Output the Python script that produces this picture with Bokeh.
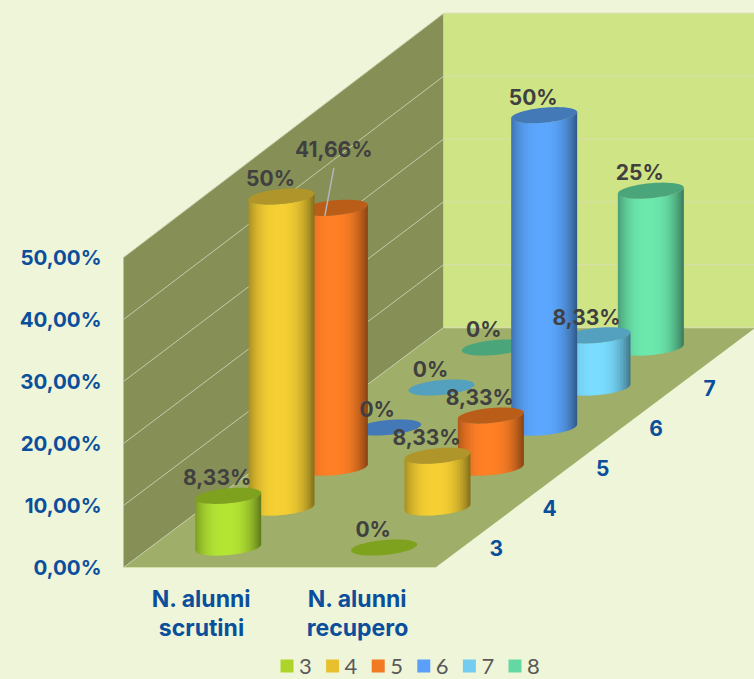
import math
from bokeh.plotting import figure
from bokeh.models import Range1d, FixedTicker
from bokeh.core.properties import value
from bokeh.embed import file_html
from bokeh.resources import INLINE

# ---------- data ----------
categories = ["N. alunni\nscrutini", "N. alunni\nrecupero"]
series_names = ["3", "4", "5", "6", "7", "8"]
depth_labels = ["3", "4", "5", "6", "7"]
scrutini = [8.33, 50, 41.66, 0, 0, 0]
recupero = [0, 8.33, 8.33, 50, 8.33, 25]
value_ticks = [0, 10, 20, 30, 40, 50]
value_tick_labels = ["0,00%", "10,00%", "20,00%", "30,00%", "40,00%", "50,00%"]

# ---------- style ----------
BG = "#eff5d8"
SIDE_WALL = "#868f55"
BACK_WALL = "#cfe585"
FLOOR = "#9fae68"
AXIS_BLUE = "#0b4f9c"
LABEL_DARK = "#404040"
LEGEND_TEXT = "#595959"
LEGEND_COLORS = ["#aed42b", "#e6c02e", "#f17a22", "#5b9ffa", "#72cdf0", "#64d8a3"]
BODY_COLORS = ["#b4e534", "#f5cf33", "#ff8026", "#5ca7ff", "#7adcff", "#6ce8ad"]
TOP_COLORS = ["#7ea21e", "#b0962a", "#b95d18", "#4479b8", "#54a0bf", "#4aa67a"]
FONT = value("Inter")

# ---------- projection (page pixels horizontally, value units vertically) ----------
PX_PER_UNIT = 6.2
X0, FRONT_Y, CAT_W = 123, 567, 156
DEPTH_DX, DEPTH_DY = 320, 240
WALL_MAX = 50
N_D = len(series_names)


def px(cat, t):
    return X0 + CAT_W * cat + DEPTH_DX * t


def py(v, t):
    return v * (1 + 0.013 * t) + t * DEPTH_DY / PX_PER_UNIT


def pu(pixels):
    return pixels / PX_PER_UNIT


p = figure(width=754, height=679, output_backend="svg", toolbar_location=None,
           x_axis_type=None, min_border_left=110, min_border_right=0,
           min_border_top=0, min_border_bottom=0,
           x_range=Range1d(110, 754),
           y_range=Range1d(pu(FRONT_Y - 679), pu(FRONT_Y)))
p.grid.visible = False
p.outline_line_color = None
p.background_fill_color = BG
p.border_fill_color = BG

ax = p.yaxis[0]
ax.ticker = FixedTicker(ticks=value_ticks)
ax.major_label_overrides = dict(zip(value_ticks, value_tick_labels))
ax.axis_line_color = None
ax.major_tick_line_color = None
ax.minor_tick_line_color = None
ax.major_tick_in = 0
ax.major_tick_out = 0
ax.major_label_standoff = 9
ax.major_label_text_font = "Inter"
ax.major_label_text_font_style = "bold"
ax.major_label_text_font_size = "20.5px"
ax.major_label_text_color = AXIS_BLUE

# ---------- walls & floor ----------
n_cat = len(categories)
p.patch([px(0, 0), px(0, 0), px(0, 1), px(0, 1)],
        [py(0, 0), py(WALL_MAX, 0), py(WALL_MAX, 1), py(0, 1)],
        fill_color=SIDE_WALL, line_color=None)
p.patch([px(0, 1), px(0, 1), px(n_cat, 1), px(n_cat, 1)],
        [py(0, 1), py(WALL_MAX, 1), py(WALL_MAX, 1), py(0, 1)],
        fill_color=BACK_WALL, line_color=None)
p.patch([px(0, 0), px(n_cat, 0), px(n_cat, 1), px(0, 1)],
        [py(0, 0), py(0, 0), py(0, 1), py(0, 1)],
        fill_color=FLOOR, line_color=None)
for v in value_ticks:
    p.line([px(0, 0), px(0, 1)], [py(v, 0), py(v, 1)], line_color="#c4cbaa", line_width=1)
    p.line([px(0, 1), px(n_cat, 1)], [py(v, 1), py(v, 1)], line_color="#d6dfa6", line_width=1.3)
p.line([px(0, 0), px(n_cat, 0)], [py(0, 0), py(0, 0)], line_color="#d6dfa6", line_width=1)


# ---------- cylinders ----------
def mix(hex_color, k):
    r, g, b = (int(hex_color[i:i + 2], 16) for i in (1, 3, 5))
    return "#%02x%02x%02x" % (round(r * k), round(g * k), round(b * k))


RX, RY, TILT, STRIPS = 33, 7.5, 3.0, 44
xs, ys, colors = [], [], []
rows = [scrutini, recupero]
labels = []
for d in range(N_D - 1, -1, -1):
    t = (d + 0.5) / N_D
    for c in range(n_cat):
        val = rows[c][d]
        cx = px(c + 0.5, t)
        y0 = py(0, t)
        y1 = py(val, t)
        if val > 0:
            for i in range(STRIPS):
                f0 = -1 + 2 * i / STRIPS
                f1 = -1 + 2 * (i + 1) / STRIPS
                fm = (f0 + f1) / 2
                shade = 0.52 + 0.48 * (1 - abs((fm + 0.08) / 1.08) ** 2.6)
                # strips overlap the next one a little so that no seams show
                fo = min(1, f1 + 0.03)
                low0 = -pu(RY) * math.sqrt(max(0, 1 - f0 * f0)) + pu(TILT) * f0
                low1 = -pu(RY) * math.sqrt(max(0, 1 - fo * fo)) + pu(TILT) * fo
                xs.append([cx + RX * f0, cx + RX * fo, cx + RX * fo, cx + RX * f0])
                ys.append([y0 + low0, y0 + low1, y1 + low1, y1 + low0])
                colors.append(mix(BODY_COLORS[d], shade))
        ex, ey = [], []
        for k in range(48):
            a = 2 * math.pi * k / 48
            ex.append(cx + RX * math.cos(a))
            ey.append(y1 + pu(RY) * math.sin(a) + pu(TILT) * math.cos(a))
        xs.append(ex)
        ys.append(ey)
        colors.append(TOP_COLORS[d])
        labels.append((cx, y1, val))
p.patches(xs=xs, ys=ys, fill_color=colors, line_color=None)

# ---------- data labels ----------
LEADER_VALUE = 41.66
lx, ly, lt = [], [], []
for cx, y1, val in labels:
    dx, dy = -11, pu(18)
    if val == LEADER_VALUE:
        dx, dy = -1, pu(58)
        p.line([cx + dx, cx - 10], [y1 + dy - pu(18), y1 + pu(-8)],
               line_color="#b4b4bc", line_width=1.5)
    lx.append(cx + dx)
    ly.append(y1 + dy)
    lt.append(f"{val:g}%".replace(".", ","))
p.text(x=lx, y=ly, text=lt, text_font=FONT, text_font_style="bold", text_font_size="21px",
       text_color=LABEL_DARK, text_align="center", text_baseline="middle")

# ---------- depth tick labels ----------
dtx = [px(n_cat, (i + 0.5) / N_D) + 34 for i in range(len(depth_labels))]
dty = [py(0, (i + 0.5) / N_D) for i in range(len(depth_labels))]
p.text(x=dtx, y=dty, text=depth_labels, text_font=FONT, text_font_style="bold",
       text_font_size="21px", text_color=AXIS_BLUE, text_align="center", text_baseline="middle")

# ---------- category labels ----------
cx_, cy_, ct_ = [], [], []
for i, name in enumerate(categories):
    for j, line in enumerate(name.split("\n")):
        cx_.append(px(i + 0.5, 0))
        cy_.append(pu(-31 - 29 * j))
        ct_.append(line)
p.text(x=cx_, y=cy_, text=ct_, text_font=FONT, text_font_style="bold", text_font_size="23px",
       text_color=AXIS_BLUE, text_align="center", text_baseline="middle")

# ---------- legend ----------
leg_x = [286.5 + 45.6 * i for i in range(len(series_names))]
leg_y = [pu(FRONT_Y - 665.5)] * len(series_names)
p.scatter(x=leg_x, y=leg_y, marker="square", size=13, fill_color=LEGEND_COLORS, line_color=None)
p.text(x=[v + 12 for v in leg_x], y=leg_y, text=series_names, text_font=value("Lato"),
       text_font_size="22px", text_color=LEGEND_TEXT, text_align="left", text_baseline="middle")

html = file_html(p, INLINE)
html = html.replace("<head>", "<head><style>html,body{background:%s;}</style>" % BG, 1)
open("out.html", "w").write(html)
